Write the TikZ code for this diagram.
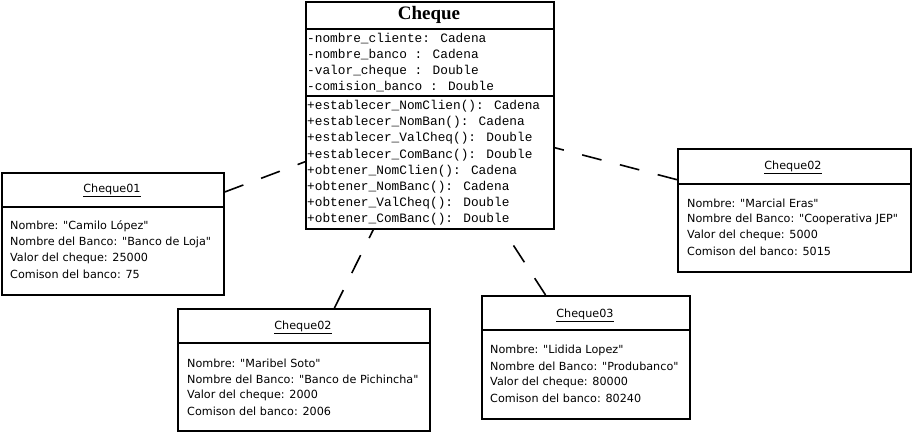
\documentclass[tikz,border=0pt]{standalone}
\usepackage{fontspec}
\newfontfamily\objfont{DejaVu Sans}
\newfontfamily\clsmono{Liberation Mono}
\newfontfamily\clstitle{Liberation Serif}
\tikzset{
  boxline/.style={draw=black, line width=1.6pt, fill=white, inner sep=0pt, anchor=north west},
  divline/.style={line width=1.6pt},
  assoc/.style={line width=1.6pt, dash pattern=on 20pt off 19pt},
  objtitle/.style={inner sep=0pt, font=\objfont\fontsize{11.2}{13}\selectfont},
  objtxt/.style={inner sep=0pt, anchor=west, font=\objfont\fontsize{11.2}{13}\selectfont},
  mono/.style={inner sep=0pt, anchor=west, font=\clsmono\fontsize{12.8}{15}\selectfont},
}
\begin{document}
\begin{tikzpicture}[x=1pt,y=-1pt]
\useasboundingbox (0,0) rectangle (913,433);
% class box
\node[boxline, minimum width=248pt, minimum height=227pt] (cls) at (305,1) {};
\node[inner sep=0pt, font=\clstitle\bfseries\fontsize{19}{22}\selectfont] (clsname) at (429,15) {Cheque};
\draw[divline] (305,29) -- (553,29);
\draw[divline] (305,96) -- (553,96);
\node[mono] (a1) at (307,39) {-nombre\_cliente: Cadena};
\node[mono] (a2) at (307,55) {-nombre\_banco : Cadena};
\node[mono] (a3) at (307,71) {-valor\_cheque : Double};
\node[mono] (a4) at (307,87) {-comision\_banco : Double};
\node[mono] (m1) at (307,106) {+establecer\_NomClien(): Cadena};
\node[mono] (m2) at (307,122) {+establecer\_NomBan(): Cadena};
\node[mono] (m3) at (307,138) {+establecer\_ValCheq(): Double};
\node[mono] (m4) at (307,155) {+establecer\_ComBanc(): Double};
\node[mono] (m5) at (307,171) {+obtener\_NomClien(): Cadena};
\node[mono] (m6) at (307,187) {+obtener\_NomBanc(): Cadena};
\node[mono] (m7) at (307,203) {+obtener\_ValCheq(): Double};
\node[mono] (m8) at (307,219) {+obtener\_ComBanc(): Double};
% Cheque01
\node[boxline, minimum width=222pt, minimum height=122pt] (o1) at (1,172) {};
\draw[divline] (1,207) -- (223,207);
\node[objtitle] (o1t) at (112,190) {\underline{Cheque01}};
\node[objtxt] (o1a) at (10,226) {Nombre: "Camilo López"};
\node[objtxt] (o1b) at (10,242) {Nombre del Banco: "Banco de Loja"};
\node[objtxt] (o1c) at (10,258) {Valor del cheque: 25000};
\node[objtxt] (o1d) at (10,274) {Comison del banco: 75};
% Cheque02 right
\node[boxline, minimum width=233pt, minimum height=123pt] (o2) at (677,148) {};
\draw[divline] (677,184) -- (910,184);
\node[objtitle] (o2t) at (793,167) {\underline{Cheque02}};
\node[objtxt] (o2a) at (687,203) {Nombre: "Marcial Eras"};
\node[objtxt] (o2b) at (687,219) {Nombre del Banco: "Cooperativa JEP"};
\node[objtxt] (o2c) at (687,235) {Valor del cheque: 5000};
\node[objtxt] (o2d) at (687,251) {Comison del banco: 5015};
% Cheque02 bottom
\node[boxline, minimum width=252pt, minimum height=122pt] (o3) at (177,308) {};
\draw[divline] (177,343) -- (429,343);
\node[objtitle] (o3t) at (303,327) {\underline{Cheque02}};
\node[objtxt] (o3a) at (187,363) {Nombre: "Maribel Soto"};
\node[objtxt] (o3b) at (187,379) {Nombre del Banco: "Banco de Pichincha"};
\node[objtxt] (o3c) at (187,395) {Valor del cheque: 2000};
\node[objtxt] (o3d) at (187,411) {Comison del banco: 2006};
% Cheque03
\node[boxline, minimum width=208pt, minimum height=123pt] (o4) at (481,295) {};
\draw[divline] (481,330) -- (689,330);
\node[objtitle] (o4t) at (585,315) {\underline{Cheque03}};
\node[objtxt] (o4a) at (490,350) {Nombre: "Lidida Lopez"};
\node[objtxt] (o4b) at (490,366) {Nombre del Banco: "Produbanco"};
\node[objtxt] (o4c) at (490,382) {Valor del cheque: 80000};
\node[objtxt] (o4d) at (490,398) {Comison del banco: 80240};
% associations
\draw[assoc] (o1) -- (cls);
\draw[assoc] (o2) -- (cls);
\draw[assoc] (o3) -- (cls);
\draw[assoc] (o4) -- (cls);
\end{tikzpicture}
\end{document}
